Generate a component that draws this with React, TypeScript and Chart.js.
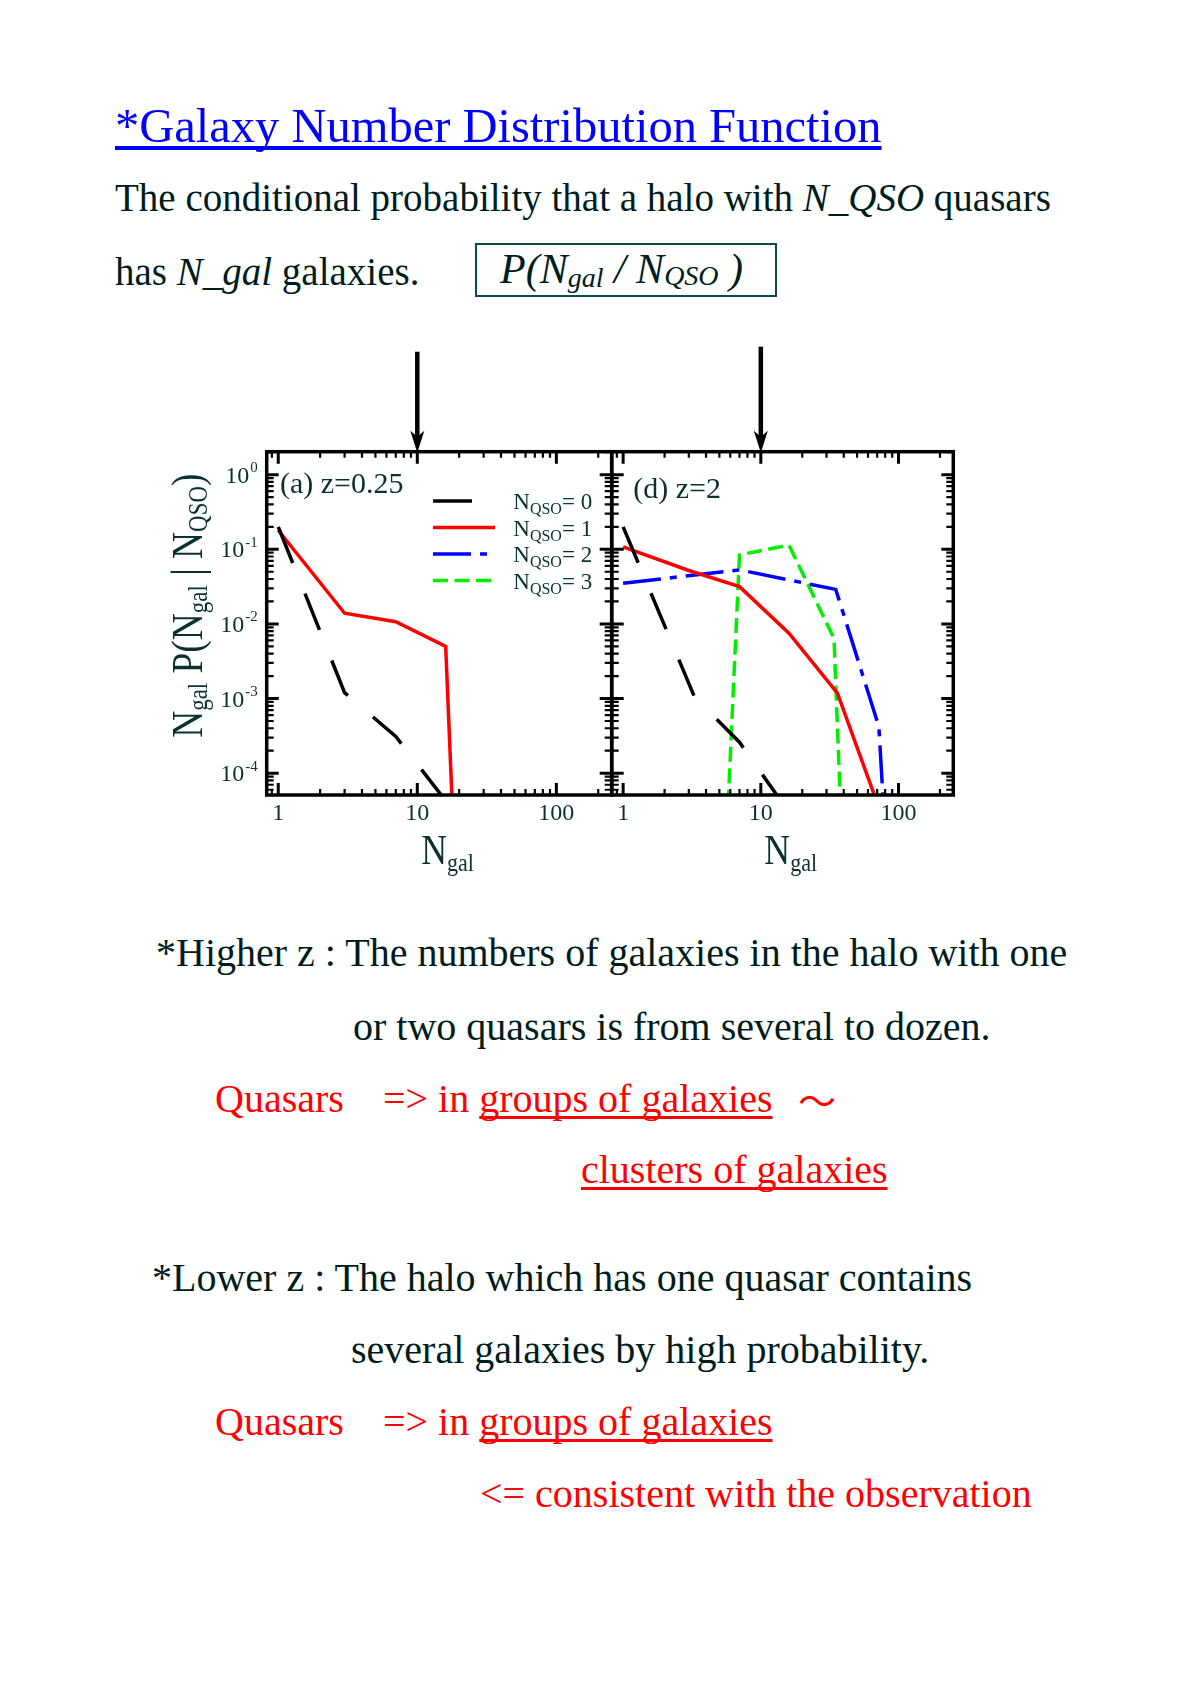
import React, { useEffect, useRef } from "react";
import { Chart, registerables } from "chart.js";

Chart.register(...registerables);

const SERIF = '"Liberation Serif", "Times New Roman", Times, serif';
const FIG_TEXT = "#0a3030";
const BODY_TEXT = "#001c1c";
const RED = "#ff0000";

// axis ranges
const X_MIN = 0.826;
const X_MAX = 250;
const Y_MIN = 5.1e-5;
const Y_MAX = 2.03;

// tick labels
const xTickValues = [1, 10, 100];
const yTickExponents = [0, -1, -2, -3, -4];
const qsoLabels = ["0", "1", "2", "3"];

// panel (a) z = 0.25
const a_n0_x = [1, 3, 7, 20];
const a_n0_y = [0.2, 1.2e-3, 3.1e-4, 2.5e-5];
const a_n1_x = [1, 3, 7, 16, 18];
const a_n1_y = [0.18, 0.0139, 0.0107, 0.005, 2.5e-5];

// panel (d) z = 2
const d_n0_x = [1, 3.3, 7, 16];
const d_n0_y = [0.2, 1.05e-3, 2.6e-4, 3e-5];
const d_n1_x = [1, 3, 7, 16, 36, 70];
const d_n1_y = [0.108, 0.052, 0.0316, 7.5e-3, 1.18e-3, 4e-5];
const d_n2_x = [1, 7, 35, 72, 80];
const d_n2_y = [0.035, 0.053, 0.029, 4.2e-4, 1.5e-5];
const d_n3_x = [5.6, 7, 16, 34, 39];
const d_n3_y = [1e-5, 0.084, 0.114, 6.4e-3, 1e-5];

const STYLES = [
  { color: "#000000", dash: [39, 33] },
  { color: "#ff0000", dash: [] as number[] },
  { color: "#0000ff", dash: [38, 9, 7, 9] },
  { color: "#00ee00", dash: [15, 6.5] },
];

function ds(i: number, xs: number[], ys: number[]) {
  return {
    label: qsoLabels[i],
    data: xs.map((x, k) => ({ x, y: ys[k] })),
    borderColor: STYLES[i].color,
    backgroundColor: STYLES[i].color,
    borderWidth: 3.5,
    borderDash: STYLES[i].dash,
    borderCapStyle: "butt",
    borderJoinStyle: "miter",
    pointRadius: 0,
    fill: false,
    tension: 0,
  };
}

type Run = { t: string; size: number; dy?: number; italic?: boolean };

function runsWidth(ctx: CanvasRenderingContext2D, runs: Run[]) {
  let w = 0;
  for (const r of runs) {
    ctx.font = `${r.italic ? "italic " : ""}${r.size}px ${SERIF}`;
    w += ctx.measureText(r.t).width;
  }
  return w;
}

// draws runs centred at (0,0) in current transform, condensed along the text
function drawRunsCentered(ctx: CanvasRenderingContext2D, runs: Run[], condense: number) {
  const w = runsWidth(ctx, runs);
  ctx.save();
  ctx.scale(condense, 1);
  let x = -w / 2;
  ctx.textAlign = "left";
  ctx.textBaseline = "alphabetic";
  for (const r of runs) {
    ctx.font = `${r.italic ? "italic " : ""}${r.size}px ${SERIF}`;
    ctx.fillText(r.t, x, r.dy || 0);
    x += ctx.measureText(r.t).width;
  }
  ctx.restore();
}

function drawRunsLeft(ctx: CanvasRenderingContext2D, runs: Run[], x0: number, y0: number) {
  let x = x0;
  ctx.textAlign = "left";
  ctx.textBaseline = "alphabetic";
  for (const r of runs) {
    ctx.font = `${r.italic ? "italic " : ""}${r.size}px ${SERIF}`;
    ctx.fillText(r.t, x, y0 + (r.dy || 0));
    x += ctx.measureText(r.t).width;
  }
}

type PanelCfg = {
  id: string;
  yLabels: boolean;
  legend: boolean;
  panelLabel: string;
  panelLabelDx: number;
  panelLabelDy: number;
  arrowLen: number;
};

function makePlugin(cfg: PanelCfg) {
  return {
    id: "panel_" + cfg.id,
    afterDraw(chart: any) {
      const ctx: CanvasRenderingContext2D = chart.ctx;
      const { left, right, top, bottom } = chart.chartArea;
      const xs = chart.scales.x;
      const ys = chart.scales.y;
      ctx.save();
      ctx.strokeStyle = "#000";
      ctx.lineCap = "butt";

      // x ticks (bottom and top, inward)
      for (let e = -1; e <= 3; e++) {
        for (let m = 1; m <= 9; m++) {
          const v = m * Math.pow(10, e);
          if (v < X_MIN || v > X_MAX) continue;
          const p = xs.getPixelForValue(v);
          const len = m === 1 ? 12 : 6;
          ctx.lineWidth = m === 1 ? 3 : 2.2;
          ctx.beginPath();
          ctx.moveTo(p, bottom);
          ctx.lineTo(p, bottom - len);
          ctx.moveTo(p, top);
          ctx.lineTo(p, top + len);
          ctx.stroke();
        }
      }
      // y ticks (left and right, inward)
      for (let e = -5; e <= 0; e++) {
        for (let m = 1; m <= 9; m++) {
          const v = m * Math.pow(10, e);
          if (v < Y_MIN || v > Y_MAX) continue;
          const p = ys.getPixelForValue(v);
          const len = m === 1 ? 12 : 7;
          ctx.lineWidth = m === 1 ? 3 : 2.2;
          ctx.beginPath();
          ctx.moveTo(left, p);
          ctx.lineTo(left + len, p);
          ctx.moveTo(right, p);
          ctx.lineTo(right - len, p);
          ctx.stroke();
        }
      }
      // frame
      ctx.lineWidth = 3.5;
      ctx.strokeRect(left, top, right - left, bottom - top);

      // arrow at N_gal = 10
      const ax = xs.getPixelForValue(10);
      ctx.lineWidth = 4.5;
      ctx.beginPath();
      ctx.moveTo(ax, top - cfg.arrowLen);
      ctx.lineTo(ax, top - 14);
      ctx.stroke();
      ctx.fillStyle = "#000";
      ctx.beginPath();
      ctx.moveTo(ax, top + 1);
      ctx.lineTo(ax - 7, top - 21);
      ctx.lineTo(ax, top - 15);
      ctx.lineTo(ax + 7, top - 21);
      ctx.closePath();
      ctx.fill();

      ctx.fillStyle = FIG_TEXT;
      // x tick labels
      ctx.font = `24px ${SERIF}`;
      ctx.textAlign = "center";
      ctx.textBaseline = "alphabetic";
      for (const v of xTickValues) {
        ctx.fillText(String(v), xs.getPixelForValue(v), bottom + 25);
      }
      // y tick labels 10^k
      if (cfg.yLabels) {
        for (const e of yTickExponents) {
          const p = ys.getPixelForValue(Math.pow(10, e));
          const expStr = e === 0 ? "0" : "-" + String(-e);
          ctx.textAlign = "right";
          ctx.font = `15px ${SERIF}`;
          const ew = ctx.measureText(expStr).width;
          const expRight = left - 9;
          ctx.fillText(expStr, expRight, p - 2.5);
          ctx.font = `24px ${SERIF}`;
          ctx.fillText("10", expRight - ew - 1, p + 8);
        }
        // y axis title (rotated)
        ctx.save();
        ctx.translate(left - 65, top + 154);
        ctx.rotate(-Math.PI / 2);
        drawRunsCentered(
          ctx,
          [
            { t: "N", size: 44 },
            { t: "gal", size: 27, dy: 5 },
            { t: " P(N", size: 44 },
            { t: "gal", size: 27, dy: 5 },
            { t: " | N", size: 44 },
            { t: "QSO", size: 27, dy: 5 },
            { t: ")", size: 44 },
          ],
          0.85
        );
        ctx.restore();
      }
      // x axis title
      ctx.save();
      ctx.translate(xs.getPixelForValue(16.5), bottom + 69);
      drawRunsCentered(
        ctx,
        [
          { t: "N", size: 42 },
          { t: "gal", size: 26, dy: 7 },
        ],
        0.85
      );
      ctx.restore();

      // panel label
      ctx.font = `30px ${SERIF}`;
      ctx.textAlign = "left";
      ctx.fillText(cfg.panelLabel, left + cfg.panelLabelDx, top + cfg.panelLabelDy);

      // legend
      if (cfg.legend) {
        const datasets = chart.data.datasets;
        datasets.forEach((d: any, i: number) => {
          const y = top + 49.3 + 26.5 * i;
          const x0 = left + 166.3;
          ctx.save();
          ctx.strokeStyle = d.borderColor;
          ctx.lineWidth = 3.5;
          ctx.setLineDash(d.borderDash || []);
          ctx.beginPath();
          ctx.moveTo(x0, y);
          ctx.lineTo(x0 + 62, y);
          ctx.stroke();
          ctx.restore();
          ctx.fillStyle = FIG_TEXT;
          drawRunsLeft(
            ctx,
            [
              { t: "N", size: 23 },
              { t: "QSO", size: 16, dy: 5 },
              { t: "= " + d.label, size: 23 },
            ],
            left + 246.6,
            y + 8
          );
        });
      }
      ctx.restore();
    },
  };
}

function makeConfig(datasets: any[], plugin: any, pad: any) {
  return {
    type: "line",
    data: { datasets },
    options: {
      responsive: false,
      animation: false,
      events: [],
      layout: { padding: pad },
      scales: {
        x: { type: "logarithmic", min: X_MIN, max: X_MAX, bounds: "data", display: false },
        y: { type: "logarithmic", min: Y_MIN, max: Y_MAX, bounds: "data", display: false },
      },
      plugins: { legend: { display: false }, tooltip: { enabled: false } },
    },
    plugins: [plugin],
  } as any;
}

function T(props: {
  x: number;
  baseline: number;
  size: number;
  color?: string;
  children: React.ReactNode;
  style?: React.CSSProperties;
}) {
  const { x, baseline, size, color, children, style } = props;
  return (
    <div
      style={{
        position: "absolute",
        left: x,
        top: baseline - 0.8375 * size,
        fontSize: size,
        lineHeight: `${size}px`,
        whiteSpace: "nowrap",
        color: color || BODY_TEXT,
        fontFamily: SERIF,
        ...style,
      }}
    >
      {children}
    </div>
  );
}

const redUnderline: React.CSSProperties = {
  textDecoration: "underline",
  textDecorationThickness: "3px",
  textUnderlineOffset: "4px",
  textDecorationSkipInk: "none" as any,
};

export default function App() {
  const leftRef = useRef<HTMLCanvasElement>(null);
  const rightRef = useRef<HTMLCanvasElement>(null);

  useEffect(() => {
    const leftChart = new Chart(
      leftRef.current as HTMLCanvasElement,
      makeConfig(
        [ds(0, a_n0_x, a_n0_y), ds(1, a_n1_x, a_n1_y), ds(2, [], []), ds(3, [], [])],
        makePlugin({
          id: "a",
          yLabels: true,
          legend: true,
          panelLabel: "(a) z=0.25",
          panelLabelDx: 13.3,
          panelLabelDy: 41.6,
          arrowLen: 100,
        }),
        { left: 126.7, top: 151.7, right: 8.3, bottom: 105 }
      )
    );
    const rightChart = new Chart(
      rightRef.current as HTMLCanvasElement,
      makeConfig(
        [ds(0, d_n0_x, d_n0_y), ds(1, d_n1_x, d_n1_y), ds(2, d_n2_x, d_n2_y), ds(3, d_n3_x, d_n3_y)],
        makePlugin({
          id: "d",
          yLabels: false,
          legend: false,
          panelLabel: "(d) z=2",
          panelLabelDx: 21.6,
          panelLabelDy: 46,
          arrowLen: 105,
        }),
        { left: 51.7, top: 151.7, right: 46.7, bottom: 105 }
      )
    );
    return () => {
      leftChart.destroy();
      rightChart.destroy();
    };
  }, []);

  return (
    <div
      style={{
        position: "absolute",
        left: 0,
        top: 0,
        width: 1190,
        height: 1683,
        background: "#fff",
        overflow: "hidden",
        fontFamily: SERIF,
      }}
    >
      <T
        x={115}
        baseline={143}
        size={48.5}
        color="#0000ff"
        style={{
          textDecoration: "underline",
          textDecorationThickness: "4px",
          textUnderlineOffset: "4px",
          textDecorationSkipInk: "none" as any,
        }}
      >
        *Galaxy Number Distribution Function
      </T>
      <T x={115} baseline={211} size={39}>
        The conditional probability that a halo with <i>N_QSO</i> quasars
      </T>
      <T x={115} baseline={285} size={39}>
        has <i>N_gal</i> galaxies.
      </T>
      <div
        style={{
          position: "absolute",
          left: 475,
          top: 243,
          width: 302,
          height: 54,
          boxSizing: "border-box",
          border: "2px solid #0a4a4a",
        }}
      />
      <T x={500} baseline={283} size={42} style={{ fontStyle: "italic" }}>
        P(N
        <span style={{ fontSize: 28, position: "relative", top: 4 }}>gal</span>
        {" / N"}
        <span style={{ fontSize: 28, position: "relative", top: 2 }}>QSO</span>
        {" )"}
      </T>

      <canvas
        ref={leftRef}
        width={480}
        height={600}
        style={{ position: "absolute", left: 140, top: 300, width: 480, height: 600 }}
      />
      <canvas
        ref={rightRef}
        width={440}
        height={600}
        style={{ position: "absolute", left: 560, top: 300, width: 440, height: 600 }}
      />

      <T x={156} baseline={966} size={40}>
        *Higher z : The numbers of galaxies in the halo with one
      </T>
      <T x={353} baseline={1040} size={40}>
        or two quasars is from several to dozen.
      </T>
      <T x={215} baseline={1112} size={40} color={RED}>
        Quasars
      </T>
      <T x={383} baseline={1112} size={40} color={RED}>
        {"=> in "}
        <span style={redUnderline}>groups of galaxies</span>
      </T>
      <T x={798} baseline={1112} size={38} color={RED} style={{ fontFamily: '"Noto Sans CJK JP", sans-serif' }}>
        ～
      </T>
      <T x={581} baseline={1183} size={40} color={RED}>
        <span style={redUnderline}>clusters of galaxies</span>
      </T>

      <T x={152} baseline={1291} size={40}>
        *Lower z : The halo which has one quasar contains
      </T>
      <T x={351} baseline={1363} size={40}>
        several galaxies by high probability.
      </T>
      <T x={215} baseline={1435} size={40} color={RED}>
        Quasars
      </T>
      <T x={383} baseline={1435} size={40} color={RED}>
        {"=> in "}
        <span style={redUnderline}>groups of galaxies</span>
      </T>
      <T x={480} baseline={1507} size={40} color={RED}>
        {"<= consistent with the observation"}
      </T>
    </div>
  );
}
